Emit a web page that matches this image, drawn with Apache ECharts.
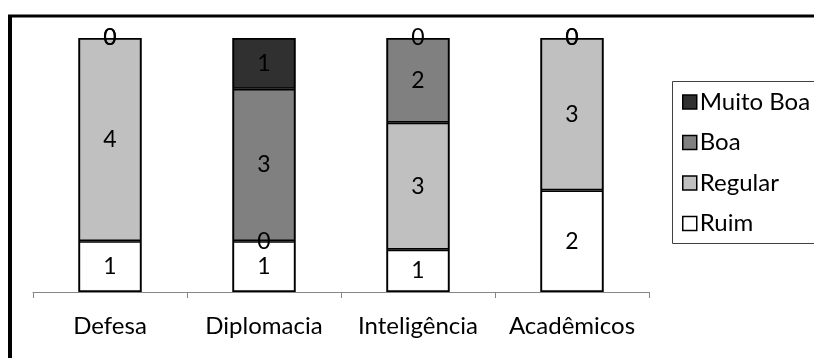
<!DOCTYPE html>
<html>
<head>
<meta charset="utf-8">
<script src="https://cdn.jsdelivr.net/npm/echarts@6/dist/echarts.min.js"></script>
<style>
  html, body { margin: 0; padding: 0; background: #fff; }
  #chart { width: 814px; height: 358px; }
</style>
</head>
<body>
<div id="chart"></div>
<script>
// Avaliação por área (contagem de respostas), barras empilhadas a 100%
const categories = ['Defesa', 'Diplomacia', 'Inteligência', 'Acadêmicos'];
const ruim      = [1, 1, 1, 2];
const regular   = [4, 0, 3, 3];
const boa       = [0, 3, 2, 0];
const muitoBoa  = [0, 1, 0, 0];

const seriesDefs = [
  { name: 'Ruim',      values: ruim,     color: '#ffffff' },
  { name: 'Regular',   values: regular,  color: '#c0c0c0' },
  { name: 'Boa',       values: boa,      color: '#808080' },
  { name: 'Muito Boa', values: muitoBoa, color: '#303030' }
];

const totals = categories.map((_, i) =>
  seriesDefs.reduce((s, d) => s + d.values[i], 0));
const shares = seriesDefs.map(d => d.values.map((v, i) => v / totals[i] * 100));
const columnTotals = categories.map((_, i) =>
  shares.reduce((s, arr) => s + arr[i], 0));

const FONT = 'Lato';
const BAR_W = 63;
const EDGE = 1.6;   // each segment and the column frame draw half of the outline

const chart = echarts.init(document.getElementById('chart'));

const segmentSeries = seriesDefs.map((d, si) => ({
  name: d.name,
  type: 'bar',
  stack: 'total',
  barWidth: BAR_W,
  barGap: '-100%',
  itemStyle: { color: d.color, borderColor: '#000', borderWidth: EDGE },
  label: {
    show: true,
    position: 'inside',
    color: '#000',
    fontSize: 23,
    fontFamily: FONT,
    formatter: p => String(seriesDefs[si].values[p.dataIndex])
  },
  data: shares[si].map((s, i) => (
    d.values[i] === 0
      ? { value: s, itemStyle: { borderWidth: 0 } }
      : s
  ))
}));

// outline of each full column, drawn over the stacked segments
const frameSeries = {
  name: 'frame',
  type: 'bar',
  barWidth: BAR_W,
  barGap: '-100%',
  silent: true,
  z: 3,
  itemStyle: { color: 'rgba(0,0,0,0)', borderColor: '#000', borderWidth: EDGE },
  label: { show: false },
  data: columnTotals
};

chart.setOption({
  animation: false,
  backgroundColor: '#ffffff',
  textStyle: { fontFamily: FONT },
  grid: { left: 33, right: 165, top: 38, bottom: 66, containLabel: false },
  xAxis: {
    type: 'category',
    data: categories,
    axisLine: { lineStyle: { color: '#868686', width: 1 } },
    axisTick: { show: true, length: 6, lineStyle: { color: '#868686' } },
    axisLabel: { color: '#000', fontSize: 24, fontFamily: FONT, margin: 22, interval: 0 }
  },
  yAxis: {
    type: 'value', min: 0, max: 100, show: false,
    splitLine: { show: false }
  },
  legend: {
    orient: 'vertical',
    left: 682, top: 90,
    padding: 0,
    itemWidth: 14, itemHeight: 14,
    itemGap: 16.5,
    icon: 'rect',
    data: ['Muito Boa', 'Boa', 'Regular', 'Ruim'],
    itemStyle: { borderColor: '#000', borderWidth: 1.5 },
    textStyle: { color: '#000', fontSize: 24, fontFamily: FONT, lineHeight: 24, padding: [0, 0, 0, -2] }
  },
  graphic: [
    { type: 'rect', shape: { x: 672.5, y: 81.5, width: 200, height: 162 },
      style: { fill: 'none', stroke: '#404040', lineWidth: 1 }, z: 0 },
    { type: 'line', shape: { x1: 8, y1: 16, x2: 830, y2: 16 },
      style: { stroke: '#000', lineWidth: 3 } },
    { type: 'line', shape: { x1: 10, y1: 15, x2: 10, y2: 400 },
      style: { stroke: '#000', lineWidth: 4 } }
  ],
  series: segmentSeries.concat([frameSeries])
});
</script>
</body>
</html>
